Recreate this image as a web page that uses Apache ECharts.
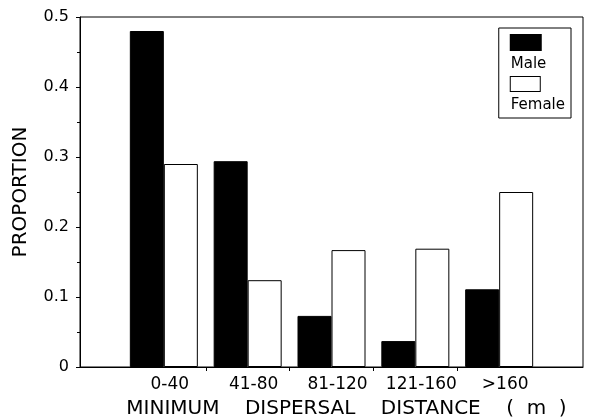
<!DOCTYPE html>
<html><head><meta charset="utf-8">
<script src="https://cdn.jsdelivr.net/npm/echarts@6/dist/echarts.min.js"></script>
<style>html,body{margin:0;padding:0;background:#fff}#c{width:590px;height:420px}</style>
</head><body><div id="c"></div>
<script>
const categories = ["0-40", "41-80", "81-120", "121-160", ">160"];
const maleValues = [0.48, 0.294, 0.073, 0.037, 0.111];
const femaleValues = [0.29, 0.124, 0.167, 0.169, 0.25];
const yTicks = [0, 0.1, 0.2, 0.3, 0.4, 0.5];

const font = '"DejaVu Sans", "Liberation Sans", sans-serif';
const chart = echarts.init(document.getElementById('c'));
const pos = categories.map((c, i) => i);
chart.setOption({
  animation: false,
  grid: { left: 80, right: 7, top: 17, bottom: 53, containLabel: false, outerBoundsMode: 'none',
    show: true, borderColor: '#000', borderWidth: 1, backgroundColor: 'transparent' },
  legend: {
    right: 19, top: 28, orient: 'vertical', itemWidth: 0, itemHeight: 0, icon: 'none',
    itemGap: 4, padding: [6, 6, 5, 7], borderColor: '#000', borderWidth: 1,
    data: ['Male', 'Female'],
    formatter: name => (name === 'Male' ? '{boxM|}' : '{boxF|}') + '\n{lab|' + name + '}',
    textStyle: {
      fontFamily: font, fontSize: 15, color: '#000',
      rich: {
        boxM: { width: 30, height: 15, backgroundColor: '#000', borderColor: '#000', borderWidth: 1 },
        boxF: { width: 29, height: 14, backgroundColor: '#fff', borderColor: '#000', borderWidth: 1 },
        lab: { fontFamily: font, fontSize: 15, color: '#000', lineHeight: 26, padding: [3, 0, 0, 0] }
      }
    }
  },
  xAxis: {
    type: 'value', min: -1, max: 5,
    name: 'MINIMUM    DISPERSAL    DISTANCE    (  m  )', nameLocation: 'middle', nameGap: 32,
    nameTextStyle: { fontFamily: font, fontSize: 20, color: '#000', padding: [0, 0, 0, 30] },
    axisLine: { show: true, onZero: false, lineStyle: { color: '#000', width: 1 } },
    axisTick: { show: true, inside: false, length: 4, customValues: [0.5, 1.5, 2.5, 3.5], lineStyle: { color: '#000' } },
    axisLabel: { customValues: pos, formatter: v => categories[Math.round(v)], fontFamily: font, fontSize: 17, color: '#000', margin: 9, padding: [0, 0, 0, 12] },
    splitLine: { show: false }
  },
  yAxis: {
    type: 'value', min: 0, max: 0.5, interval: 0.1,
    name: 'PROPORTION', nameLocation: 'middle', nameGap: 49,
    nameTextStyle: { fontFamily: font, fontSize: 20, color: '#000' },
    axisLine: { show: true, onZero: false, lineStyle: { color: '#000', width: 1 } },
    axisTick: { show: true, inside: false, length: 4, lineStyle: { color: '#000' } },
    minorTick: { show: true, splitNumber: 2, length: 3, lineStyle: { color: '#000' } },
    axisLabel: { formatter: v => String(Math.round(v * 10) / 10), fontFamily: font, fontSize: 16, color: '#000', margin: 11 },
    splitLine: { show: false }
  },
  series: [
    { name: 'Male', type: 'bar', barWidth: 34, barGap: '0%', data: maleValues.map((v, i) => [i, v]),
      itemStyle: { color: '#000', borderColor: '#000', borderWidth: 1 } },
    { name: 'Female', type: 'bar', barWidth: 34, barGap: '0%', data: femaleValues.map((v, i) => [i, v]),
      itemStyle: { color: '#fff', borderColor: '#000', borderWidth: 1 } }
  ]
});
</script></body></html>
